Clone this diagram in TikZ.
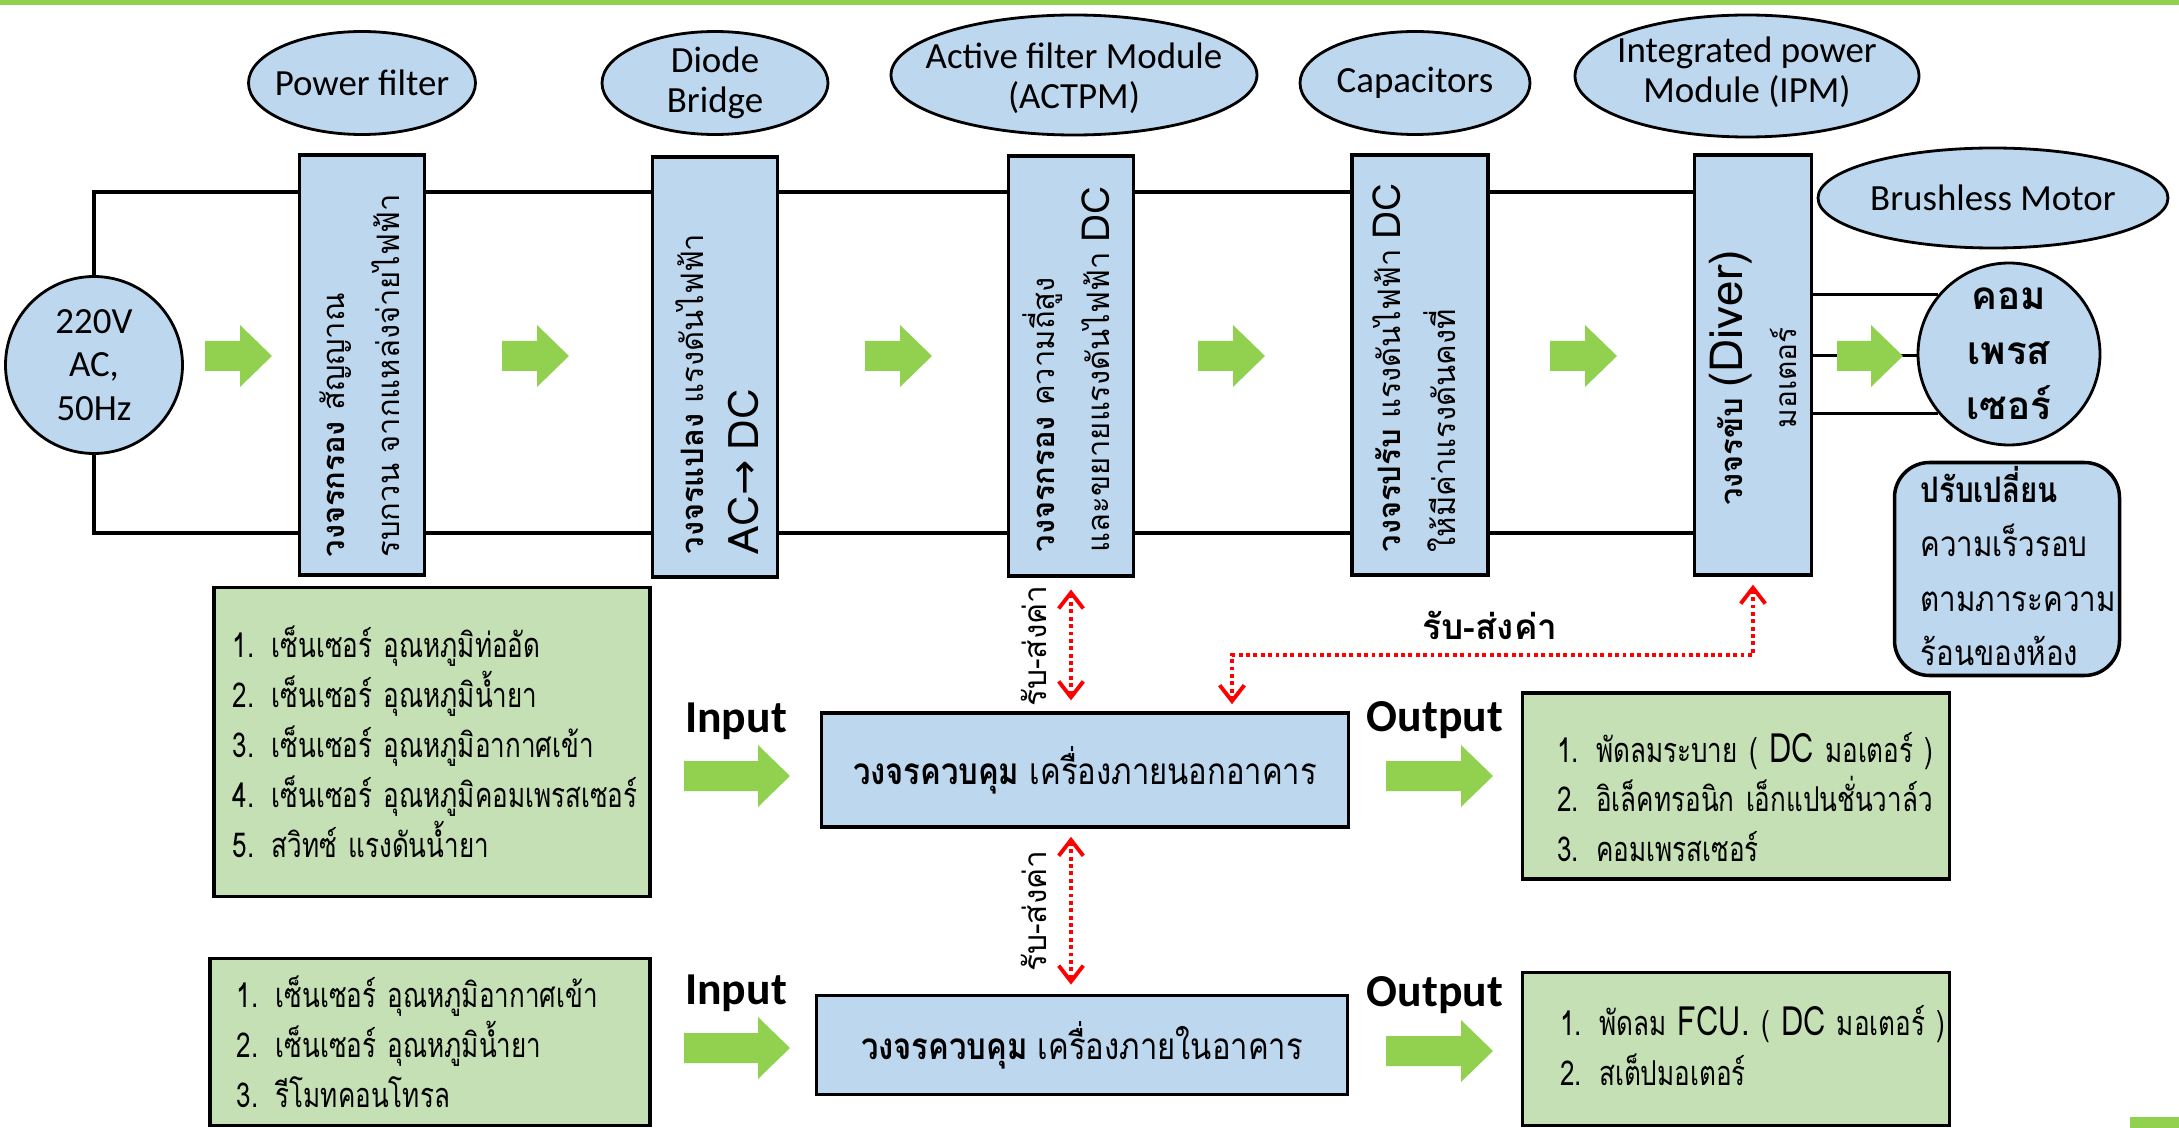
\documentclass[tikz,border=0pt]{standalone}
\usepackage{fontspec}
\setmainfont{Carlito}
\newfontfamily\thaifont[Script=Thai]{Loma}
\newfontfamily\thainarrow[Script=Thai, FakeStretch=0.84]{Loma}
\newfontfamily\thaislim[Script=Thai, FakeStretch=0.76]{Loma}
\newfontfamily\symfont{DejaVu Sans}
\usetikzlibrary{arrows.meta,shapes.geometric}
\definecolor{boxblue}{RGB}{189,215,238}
\definecolor{listgreen}{RGB}{197,224,180}
\definecolor{arrowgreen}{RGB}{146,208,80}

\begin{document}
\begin{tikzpicture}[x=0.1mm, y=-0.1mm,
    wire/.style={line width=1pt},
    stage/.style={draw, line width=0.9pt, fill=boxblue, minimum width=12.5mm, minimum height=42mm, inner sep=0pt},
    tag/.style={ellipse, draw, line width=0.8pt, fill=boxblue, inner sep=0pt},
    tagtext/.style={align=center, font=\fontsize{10.5}{11.4}\selectfont},
    stagetext/.style={rotate=90, text width=40mm, align=left, anchor=west, inner sep=0pt,
        font=\thaifont\fontsize{8.8}{15.6}\selectfont},
    listbox/.style={draw, line width=1pt, fill=listgreen},
    listtext/.style={anchor=west, inner sep=0pt, text width=42mm, align=left,
        font=\thaislim\fontsize{9.75}{14.2}\selectfont},
    ctrl/.style={draw, line width=1pt, fill=boxblue, font=\thainarrow\fontsize{10.5}{12}\selectfont},
    io/.style={font=\fontsize{13}{14}\selectfont\bfseries},
    sig/.style={red, line width=1.1pt, dash pattern=on 1.1pt off 1pt,
        {Straight Barb[length=4.5pt,width=7pt]}-{Straight Barb[length=4.5pt,width=7pt]}},
    sigtext/.style={font=\thaifont\fontsize{9}{11}\selectfont}
  ]
  \useasboundingbox (0,0) rectangle (2179,1128);
  \fill[arrowgreen] (0,0) rectangle (2179,5);

  % names of the stages
  \node[tag, minimum width=22.7mm, minimum height=10.3mm, label={[tagtext]center:Power filter}] (pf) at (362,83) {};
  \node[tag, minimum width=22.6mm, minimum height=10.3mm, label={[tagtext]center:Diode\\Bridge}] (db) at (715,83) {};
  \node[tag, minimum width=36.6mm, minimum height=12mm, label={[tagtext, yshift=-1pt]center:Active filter Module\\(ACTPM)}] (af) at (1074,75) {};
  \node[tag, minimum width=23mm, minimum height=10.3mm, label={[tagtext]center:Capacitors}] (cp) at (1415,83) {};
  \node[tag, minimum width=34.4mm, minimum height=12.2mm, label={[tagtext, yshift=1pt]center:Integrated power\\Module (IPM)}] (ipm) at (1747,76) {};
  \node[tag, minimum width=35mm, minimum height=10mm, label={[tagtext]center:Brushless Motor}] (bm) at (1993,198) {};

  % stages
  \node[stage] (b1) at (362,365) {};
  \node[stage] (b2) at (715,367) {};
  \node[stage] (b3) at (1071,366) {};
  \node[stage, minimum width=13.6mm] (b4) at (1420,365) {};
  \node[stage, minimum width=11.7mm] (b5) at (1753,365) {};

  \node[tag, circle, minimum size=17.7mm,
    label={[tagtext, font=\fontsize{10.5}{12.3}\selectfont]center:220V\\AC,\\50Hz}] (ac) at (94,365) {};
  \node[tag, circle, minimum size=18.2mm,
    label={[align=center, font=\thaifont\bfseries\fontsize{11}{15.6}\selectfont]center:คอม\\เพรส\\เซอร์}] (comp) at (2009,354) {};

  % supply lines
  \draw[wire] (ac.north) -- (ac.north |- 0,192) -- (b1.west |- 0,192);
  \draw[wire] (ac.south) -- (ac.south |- 0,533) -- (b1.west |- 0,533);
  \foreach \a/\b in {b1/b2,b2/b3,b3/b4,b4/b5} {
    \draw[wire] (\a.east |- 0,192) -- (\b.west |- 0,192);
    \draw[wire] (\a.east |- 0,533) -- (\b.west |- 0,533);
  }
  \foreach \ang in {140,181,220}
    \draw[wire] (b5.east |- comp.\ang) -- (comp.\ang);

  % green arrows
  \foreach \x/\y/\l in {205/356/67, 502/356/67, 865/356/67, 1198/356/67, 1550/356/67, 1837/356/66,
                        684/776/106, 684/1048/106, 1386/776/107, 1386/1051/107}
    \fill[arrowgreen] (\x,\y-15) -- ++(\l-32,0) -- ++(0,-16) -- (\x+\l,\y)
      -- (\x+\l-32,\y+31) -- ++(0,-16) -- (\x,\y+15) -- cycle;

  % text in the stages
  \node[stagetext] (t1) at (360,558) {{\bfseries วงจรกรอง} สัญญาณ\\รบกวน จากแหล่งจ่ายไฟฟ้า};
  \node[stagetext] (t2) at (717,555) {{\bfseries วงจรแปลง} แรงดันไฟฟ้า\\{\fontsize{12}{15.6}\selectfont AC{\symfont→} DC}};
  \node[stagetext] (t3) at (1066,553) {{\bfseries วงจรกรอง} ความถี่สูง\\และขยายแรงดันไฟฟ้า {\fontsize{11}{15.6}\selectfont DC}};
  \node[stagetext] (t4) at (1414,553) {{\bfseries วงจรปรับ} แรงดันไฟฟ้า {\fontsize{11}{15.6}\selectfont DC}\\ให้มีค่าแรงดันคงที่};
  \node[stagetext, anchor=center, align=center] (t5) at (1753,378)
    {{\bfseries วงจรขับ} {\fontsize{13}{16}\selectfont (Diver)}\\{\fontsize{8.5}{15.6}\selectfont มอเตอร์}};

  \node[draw, line width=1pt, fill=boxblue, rounded corners=3.5mm, minimum width=22.5mm, minimum height=21.3mm] (sp) at (2007,569) {};
  \node[listtext, font=\thainarrow\fontsize{10}{15.4}\selectfont] (spt) at ([xshift=2.7mm, yshift=0.3mm]sp.west)
    {{\bfseries ปรับเปลี่ยน}\\ความเร็วรอบ\\ตามภาระความ\\ร้อนของห้อง};

  % outdoor unit
  \node[listbox, minimum width=43.6mm, minimum height=30.9mm] (in1) at (432,742) {};
  \node[listtext] (in1t) at ([xshift=2mm]in1.west)
    {1. เซ็นเซอร์ อุณหภูมิท่ออัด\\2. เซ็นเซอร์ อุณหภูมิน้ำยา\\3. เซ็นเซอร์ อุณหภูมิอากาศเข้า\\4. เซ็นเซอร์ อุณหภูมิคอมเพรสเซอร์\\5. สวิทซ์ แรงดันน้ำยา};
  \node[io] (inp1) at (736,721) {Input};
  \node[ctrl, minimum width=52.7mm, minimum height=11.4mm] (c1) at (1085,770) {{\bfseries วงจรควบคุม} เครื่องภายนอกอาคาร};
  \node[io] (out1) at (1435,720) {Output};
  \node[listbox, minimum width=42.7mm, minimum height=18.6mm] (o1) at (1736,786) {};
  \node[listtext] (o1t) at ([xshift=3.6mm, yshift=-1.1mm]o1.west)
    {1. พัดลมระบาย ( {\fontsize{11.5}{14.2}\selectfont DC} มอเตอร์ )\\2. อิเล็คทรอนิก เอ็กแปนชั่นวาล์ว\\3. คอมเพรสเซอร์};

  % indoor unit
  \node[listbox, minimum width=44mm, minimum height=16.7mm] (in2) at (430,1042) {};
  \node[listtext] (in2t) at ([xshift=2.8mm]in2.west)
    {1. เซ็นเซอร์ อุณหภูมิอากาศเข้า\\2. เซ็นเซอร์ อุณหภูมิน้ำยา\\3. รีโมทคอนโทรล};
  \node[io] (inp2) at (736,993) {Input};
  \node[ctrl, minimum width=53.1mm, minimum height=9.9mm] (c2) at (1082,1045) {{\bfseries วงจรควบคุม} เครื่องภายในอาคาร};
  \node[io] (out2) at (1435,995) {Output};
  \node[listbox, minimum width=42.7mm, minimum height=15.3mm] (o2) at (1736,1049) {};
  \node[listtext] (o2t) at ([xshift=3.9mm, yshift=0.3mm]o2.west)
    {1. พัดลม {\fontsize{11.5}{14.2}\selectfont FCU.} ( {\fontsize{11.5}{14.2}\selectfont DC} มอเตอร์ )\\2. สเต็ปมอเตอร์};

  % signal links
  \draw[sig, shorten <=3.4pt, shorten >=3.1pt] (b3.south) -- (b3.south |- c1.north);
  \draw[sig, shorten <=2.3pt, shorten >=2.6pt] (c1.south -| b3.south) -- (c2.north -| b3.south);
  \coordinate (bend) at (1232,655);
  \draw[sig, shorten <=2.3pt, shorten >=2pt] (b5.south) -- (b5.south |- bend) -- (bend) -- (bend |- c1.north);
  \node[sigtext, rotate=90] (s1) at (1034,646) {รับ-ส่งค่า};
  \node[sigtext, rotate=90] (s2) at (1034,911) {รับ-ส่งค่า};
  \node[sigtext, font=\thaifont\bfseries\fontsize{10}{11}\selectfont] (s3) at (1490,625) {รับ-ส่งค่า};

  \fill[arrowgreen] (2130,1117) rectangle (2179,1128);
\end{tikzpicture}
\end{document}
